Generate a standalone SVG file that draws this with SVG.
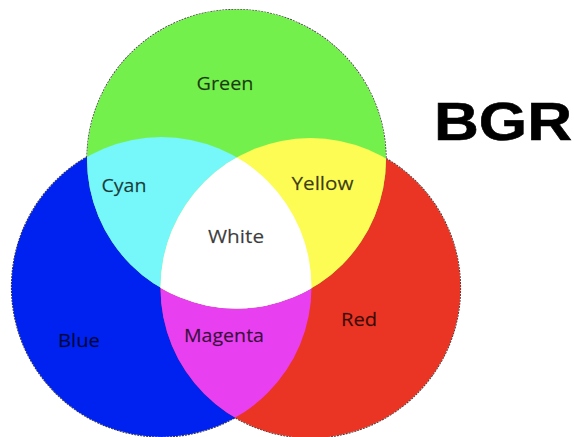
<svg xmlns="http://www.w3.org/2000/svg" width="574" height="437" viewBox="0 0 574 437">
  <style>
    .lbl { font-family: "Open Sans", "Liberation Sans", sans-serif; font-size: 19px; fill: #000; fill-opacity: 0.75; stroke: #000; stroke-opacity: 0.35; stroke-width: 0.4; text-anchor: middle; }
    .title { font-family: "Liberation Sans", Arial, sans-serif; font-size: 53px; font-weight: bold; fill: #000; stroke: #000; stroke-width: 0.6; text-anchor: middle; }
    .edge { fill: none; stroke: #3a3a3a; stroke-width: 1.2; stroke-dasharray: 2 1; }
  </style>
  <defs>
    <circle id="cG" cx="236.5" cy="159" r="149.5"/>
    <circle id="cB" cx="161.5" cy="287" r="150"/>
    <circle id="cR" cx="310.5" cy="288" r="150"/>
    <clipPath id="clipB"><use href="#cB"/></clipPath>
    <clipPath id="clipR"><use href="#cR"/></clipPath>
  </defs>
  <rect width="574" height="437" fill="#ffffff"/>

  <g id="outlines">
    <use href="#cB" class="edge"/>
    <use href="#cR" class="edge"/>
    <use href="#cG" class="edge"/>
  </g>

  <g id="blue"><use href="#cB" fill="#0022F0"/></g>
  <g id="red"><use href="#cR" fill="#EA3424"/></g>
  <g id="green"><use href="#cG" fill="#74F04C"/></g>
  <g id="magenta"><use href="#cR" fill="#E840F0" clip-path="url(#clipB)"/></g>
  <g id="cyan"><use href="#cG" fill="#76F7F9" clip-path="url(#clipB)"/></g>
  <g id="yellow"><use href="#cG" fill="#FCFC55" clip-path="url(#clipR)"/></g>
  <g id="white"><g clip-path="url(#clipR)"><use href="#cG" fill="#FFFFFF" clip-path="url(#clipB)"/></g></g>

  <g id="labels">
    <text class="lbl" x="225" y="90" textLength="57" lengthAdjust="spacingAndGlyphs">Green</text>
    <text class="lbl" x="124" y="192" textLength="45" lengthAdjust="spacingAndGlyphs">Cyan</text>
    <text class="lbl" x="322.5" y="190" textLength="62" lengthAdjust="spacingAndGlyphs">Yellow</text>
    <text class="lbl" x="236" y="243" textLength="56" lengthAdjust="spacingAndGlyphs">White</text>
    <text class="lbl" x="79" y="347" textLength="42" lengthAdjust="spacingAndGlyphs">Blue</text>
    <text class="lbl" x="224" y="342" textLength="80" lengthAdjust="spacingAndGlyphs">Magenta</text>
    <text class="lbl" x="359" y="326" textLength="36" lengthAdjust="spacingAndGlyphs">Red</text>
  </g>
  <text class="title" x="503" y="140" textLength="138" lengthAdjust="spacingAndGlyphs">BGR</text>
</svg>
